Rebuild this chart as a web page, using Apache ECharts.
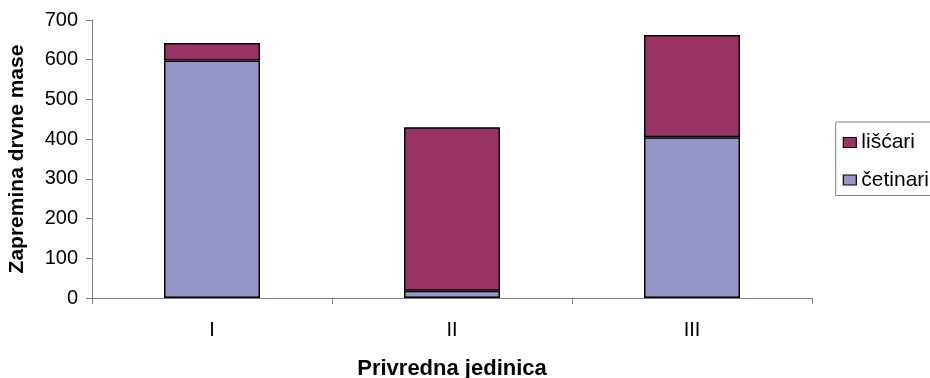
<!DOCTYPE html>
<html><head><meta charset="utf-8">
<script src="https://cdn.jsdelivr.net/npm/echarts@6/dist/echarts.min.js"></script>
<style>html,body{margin:0;padding:0;background:#fff}#c{width:930px;height:378px}</style>
</head><body><div id="c"></div>
<script>
const categories = ['I', 'II', 'III'];
const cetinari = [598, 18, 405];
const liscari = [44, 412, 257];
const yTicks = [0, 100, 200, 300, 400, 500, 600, 700];

const chart = echarts.init(document.getElementById('c'), null, {renderer: 'canvas'});
const font = 'Liberation Sans, Arial, sans-serif';
chart.setOption({
  animation: false,
  textStyle: {fontFamily: font},
  grid: {left: 92, right: 118, top: 20, bottom: 80, containLabel: false, outerBoundsMode: 'none'},
  legend: {
    orient: 'vertical', right: -5, top: 122,
    data: ['lišćari', 'četinari'],
    borderColor: '#808080', borderWidth: 1, padding: [10, 6, 5, 7],
    itemGap: 16.5, itemWidth: 13, itemHeight: 10, icon: 'rect',
    textStyle: {fontSize: 21, color: '#000', fontFamily: font},
    itemStyle: {borderColor: '#000', borderWidth: 1.2}
  },
  xAxis: {
    type: 'category', data: categories,
    name: 'Privredna jedinica', nameLocation: 'middle', nameGap: 60,
    nameTextStyle: {fontSize: 22, fontWeight: 'bold', color: '#000', fontFamily: font},
    axisLine: {lineStyle: {color: '#808080', width: 1}},
    axisTick: {show: true, length: 6, lineStyle: {color: '#808080'}, alignWithLabel: false},
    axisLabel: {fontSize: 20, color: '#000', margin: 22, fontFamily: font}
  },
  yAxis: {
    type: 'value', min: yTicks[0], max: yTicks[yTicks.length - 1], interval: 100,
    name: 'Zapremina drvne mase', nameLocation: 'middle', nameGap: 64, nameRotate: 90,
    nameTextStyle: {fontSize: 21, fontWeight: 'bold', color: '#000', fontFamily: font},
    axisLine: {show: true, lineStyle: {color: '#808080', width: 1}},
    axisTick: {show: true, length: 6, lineStyle: {color: '#808080'}},
    axisLabel: {fontSize: 20, color: '#000', margin: 14, fontFamily: font},
    splitLine: {show: false}
  },
  series: [
    {name: 'četinari', type: 'bar', stack: 's', data: cetinari, barWidth: 96,
     itemStyle: {color: '#9696C8', borderColor: '#000', borderWidth: 1.5}},
    {name: 'lišćari', type: 'bar', stack: 's', data: liscari, barWidth: 96,
     itemStyle: {color: '#993366', borderColor: '#000', borderWidth: 1.5}}
  ]
});
</script></body></html>
